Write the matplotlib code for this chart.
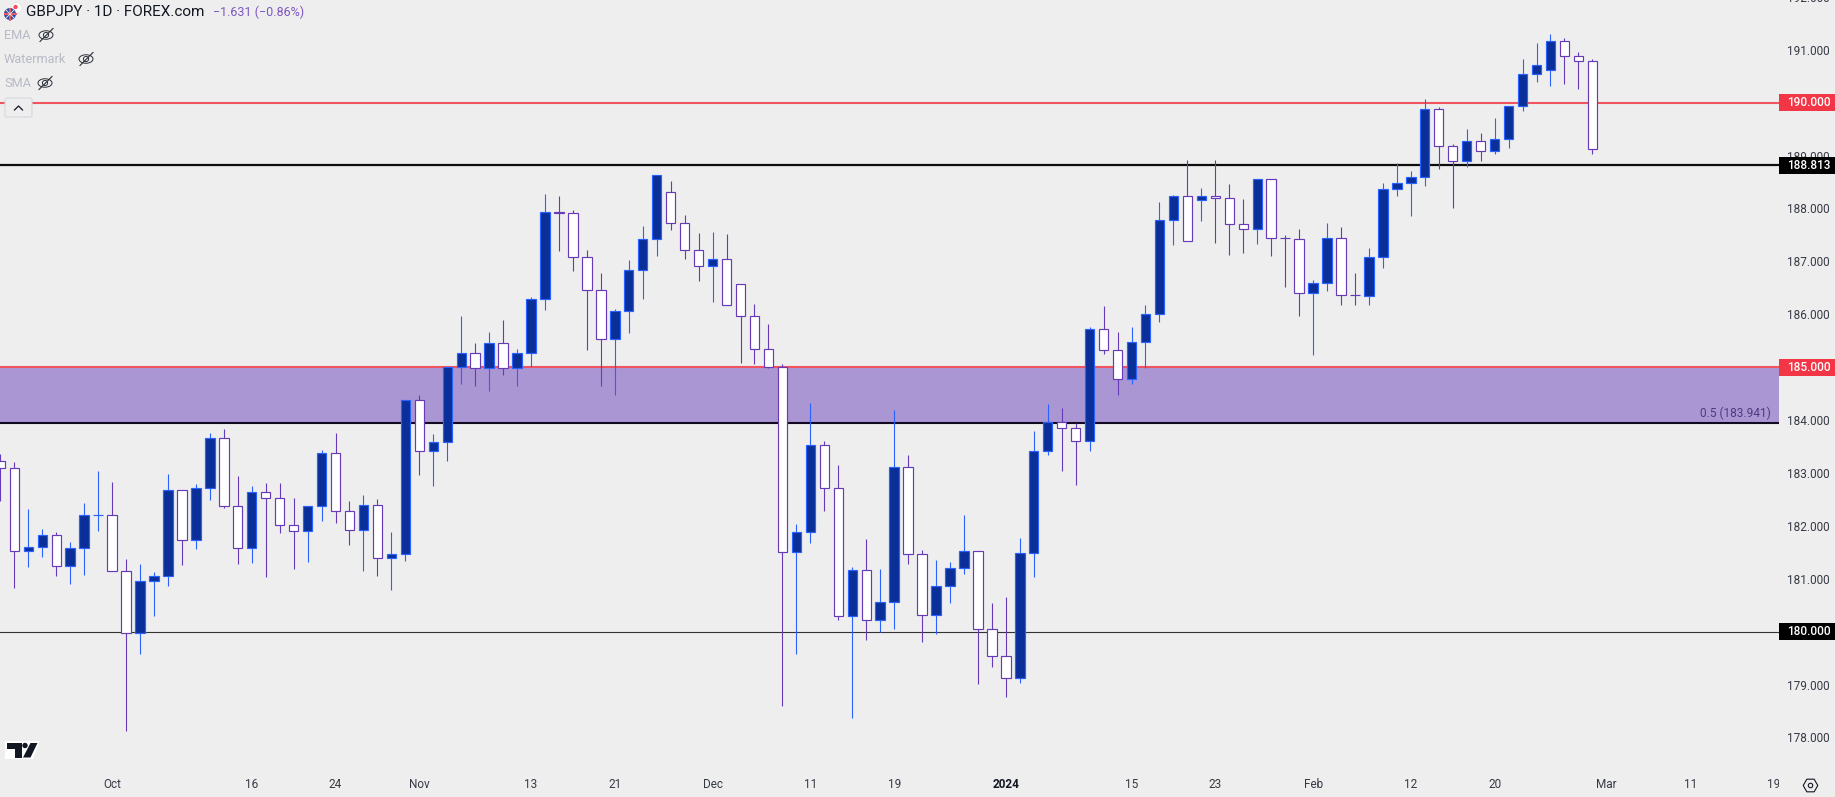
import matplotlib
matplotlib.use("Agg")
import matplotlib.pyplot as plt
from matplotlib.patches import Rectangle, FancyBboxPatch, Circle, Ellipse, Polygon
from matplotlib.transforms import blended_transform_factory
import numpy as np

# ───── DATA ────────────────────────────────────────────────────
opens = [183.22, 183.10, 181.52, 181.61, 181.82, 181.25, 181.59, 182.20, 182.21, 181.14,
         179.98, 180.95, 181.06, 182.67, 181.74, 182.71, 183.67, 182.38, 181.59, 182.65,
         182.52, 182.01, 181.91, 182.37, 183.37, 182.29, 181.93, 182.40, 181.40, 181.46,
         184.38, 183.42, 183.58, 185.01, 185.26, 184.98, 185.45, 184.99, 185.26, 186.28,
         187.94, 187.92, 187.09, 186.45, 185.54, 186.07, 186.83, 187.43, 188.32, 187.73,
         187.21, 186.92, 187.05, 186.58, 185.96, 185.35, 185.01, 181.50, 181.89, 183.52,
         182.71, 180.29, 181.16, 180.23, 180.57, 183.12, 181.46, 180.32, 180.87, 181.21,
         181.52, 180.06, 179.55, 179.13, 181.48, 183.41, 183.97, 183.86, 183.61, 185.73,
         185.32, 184.77, 185.47, 186.00, 187.79, 188.23, 188.17, 188.23, 188.19, 187.70,
         187.62, 188.55, 187.45, 187.43, 186.41, 186.60, 187.45, 186.37, 186.35, 187.09,
         188.36, 188.49, 188.59, 189.89, 189.19, 188.89, 189.28, 189.08, 189.32, 189.93,
         190.55, 190.61, 191.16, 190.89, 190.78]
highs = [183.36, 183.20, 182.32, 181.95, 181.88, 181.69, 182.43, 183.03, 182.83, 181.38,
         181.28, 181.12, 182.98, 182.67, 182.79, 183.75, 183.83, 182.94, 182.75, 182.81,
         182.81, 182.52, 182.37, 183.43, 183.75, 182.47, 182.58, 182.50, 181.88, 184.38,
         184.47, 183.73, 185.00, 185.96, 185.45, 185.66, 185.89, 185.34, 186.32, 188.27,
         188.23, 187.97, 187.21, 186.78, 186.10, 187.02, 187.67, 188.64, 188.52, 187.87,
         187.53, 187.55, 187.51, 186.58, 186.19, 185.81, 185.06, 182.04, 184.32, 183.60,
         183.15, 181.22, 181.75, 181.18, 184.19, 183.34, 181.54, 181.35, 181.31, 182.20,
         181.52, 180.54, 180.65, 181.77, 183.79, 184.30, 184.23, 183.95, 185.76, 186.15,
         185.66, 185.76, 186.17, 188.12, 188.25, 188.91, 188.38, 188.91, 188.46, 188.18,
         188.55, 188.55, 187.50, 187.61, 186.64, 187.72, 187.65, 186.78, 187.25, 188.48,
         188.86, 188.71, 190.07, 189.91, 189.21, 189.50, 189.42, 189.71, 189.93, 190.82,
         191.13, 191.30, 191.22, 190.95, 190.82]
lows = [182.47, 180.83, 181.23, 181.41, 181.06, 180.90, 181.07, 181.91, 181.14, 178.13,
        179.58, 180.30, 180.87, 181.26, 181.57, 182.49, 182.34, 181.28, 181.30, 181.04,
        181.87, 181.19, 181.32, 182.10, 182.06, 181.64, 181.15, 181.06, 180.79, 181.34,
        182.96, 182.75, 183.22, 184.68, 184.64, 184.55, 184.85, 184.64, 185.01, 186.08,
        187.19, 186.81, 185.32, 184.64, 184.47, 185.64, 186.29, 187.10, 187.59, 187.04,
        186.63, 186.23, 186.18, 185.08, 185.06, 184.98, 178.60, 179.58, 181.68, 182.28,
        180.22, 178.37, 179.85, 180.00, 180.05, 181.28, 179.81, 179.96, 180.55, 181.09,
        179.01, 179.34, 178.77, 179.03, 181.04, 183.34, 183.04, 182.78, 183.42, 185.25,
        184.47, 184.68, 184.98, 185.85, 187.31, 187.39, 187.76, 187.34, 187.12, 187.16,
        187.33, 187.10, 186.51, 185.96, 185.23, 186.44, 186.17, 186.17, 186.17, 186.87,
        188.23, 187.85, 188.43, 188.75, 188.01, 188.79, 188.90, 189.03, 189.15, 189.85,
        190.39, 190.32, 190.36, 190.26, 189.03]
closes = [183.10, 181.52, 181.61, 181.82, 181.25, 181.59, 182.20, 182.21, 181.14, 179.98,
          180.95, 181.06, 182.67, 181.74, 182.71, 183.67, 182.38, 181.59, 182.65, 182.52,
          182.01, 181.91, 182.37, 183.37, 182.29, 181.93, 182.40, 181.40, 181.46, 184.38,
          183.42, 183.58, 185.00, 185.26, 184.98, 185.45, 184.99, 185.26, 186.28, 187.94,
          187.92, 187.09, 186.45, 185.54, 186.07, 186.83, 187.43, 188.64, 187.73, 187.21,
          186.92, 187.05, 186.18, 185.96, 185.35, 185.01, 181.50, 181.89, 183.52, 182.71,
          180.29, 181.16, 180.23, 180.57, 183.12, 181.46, 180.32, 180.87, 181.21, 181.52,
          180.06, 179.55, 179.13, 181.48, 183.41, 183.97, 183.86, 183.61, 185.73, 185.32,
          184.77, 185.47, 186.00, 187.79, 188.23, 187.39, 188.23, 188.19, 187.70, 187.62,
          188.55, 187.45, 187.44, 186.41, 186.60, 187.45, 186.37, 186.36, 187.09, 188.36,
          188.49, 188.59, 189.89, 189.19, 188.89, 189.28, 189.08, 189.32, 189.93, 190.55,
          190.72, 191.16, 190.89, 190.78, 189.13]

time_labels = ["Oct", "16", "24", "Nov", "13", "21", "Dec", "11", "19", "2024",
               "15", "23", "Feb", "12", "20", "Mar", "11", "19"]
time_bars = [8, 18, 24, 30, 38, 44, 51, 58, 64, 72, 81, 87, 94, 101, 107, 115, 121, 127]
price_ticks = list(range(178, 193))
red_levels = [190.0, 185.0]
black_levels = [188.813, 180.0]
zone_low, zone_high = 183.941, 185.0
# ───────────────────────────────────────────────────────────────

W, H = 1835, 797
PANE_W = 1779
BAR_PX = 13.965
UNIT_PX = 52.9
BASE_PX = 631.7  # pixel row of the 180 level

BG = "#eeeeee"
UP_FILL = "#0b2f98"
UP_LINE = "#2962ff"
DOWN_FILL = "#ffffff"
DOWN_LINE = "#673ab7"
RED = "#f2545f"
TEXT = "#363a45"
FONT = "Roboto"

plt.rcParams["font.family"] = [FONT, "DejaVu Sans"]

fig = plt.figure(figsize=(W / 100, H / 100), dpi=100, facecolor=BG)
# main pane runs past the top edge so the clipped 192 label still gets drawn
ax = fig.add_axes([0, 0, PANE_W / W, 817 / H], facecolor=BG)
ax.set_xlim(-0.37 / BAR_PX, (PANE_W - 0.37) / BAR_PX)
ax.set_ylim(180 - (797 - BASE_PX) / UNIT_PX, 180 + (BASE_PX + 20) / UNIT_PX)
for s in ax.spines.values():
    s.set_visible(False)

# zone and horizontal levels sit under the candles
ax.axhspan(zone_low, zone_high, color="#ab96d4", lw=0, zorder=1)
ax.axhline(zone_low, color="#120a20", lw=1.5, zorder=1.2)
for lv in red_levels:
    ax.axhline(lv, color=RED, lw=1.5, zorder=1.2)
ax.axhline(black_levels[0], color="#0c0c0c", lw=1.6, zorder=1.2)
ax.axhline(black_levels[1], color="#333333", lw=0.8, zorder=1.2)

# candles
o = np.array(opens)
c = np.array(closes)
x = np.arange(len(o))
up = c >= o
body_w = 9.4 / BAR_PX
ax.vlines(x[up], np.array(lows)[up], np.array(highs)[up], color=UP_LINE, lw=0.8, zorder=3)
ax.vlines(x[~up], np.array(lows)[~up], np.array(highs)[~up], color=DOWN_LINE, lw=0.8, zorder=3)
ax.bar(x[up], (c - o)[up], bottom=o[up], width=body_w, facecolor=UP_FILL,
       edgecolor=UP_LINE, linewidth=0.85, zorder=3.2)
ax.bar(x[~up], (c - o)[~up], bottom=o[~up], width=body_w, facecolor=DOWN_FILL,
       edgecolor=DOWN_LINE, linewidth=0.85, zorder=3.2)

# price axis
ax.yaxis.tick_right()
ax.set_yticks(price_ticks)
ax.set_yticklabels([f"{p:.3f}" for p in price_ticks])
ax.tick_params(axis="y", length=0, pad=5.8, labelsize=8.5, labelcolor=TEXT)
ax.set_xticks([])

# price tags on the axis
tag_tr = blended_transform_factory(ax.transAxes, ax.transData)
tag_levels = [190.0, 188.813, 185.0, 180.0]
tag_colors = ["#f23645", "#000000", "#f23645", "#000000"]
for lv, col in zip(tag_levels, tag_colors):
    ax.add_patch(Rectangle((1, lv - 0.16), (W - PANE_W) / PANE_W, 0.32, transform=tag_tr,
                           facecolor=col, edgecolor="none", clip_on=False, zorder=5))
    ax.text(1 + 8 / PANE_W, lv - 0.005, f"{lv:.3f}", transform=tag_tr, color="white",
            fontsize=8.5, fontweight="medium", ha="left", va="center", clip_on=False, zorder=6)

ax.text(1 - 8.3 / PANE_W, zone_low + 0.19, f"0.5 ({zone_low:.3f})", transform=tag_tr,
        color="#4f3a80", fontsize=8.6, ha="right", va="center", zorder=4)

# time axis, labels are clipped at the pane edge
for pos, lab in zip(time_bars, time_labels):
    is_year = lab == "2024"
    ax.text(pos, 180 - (785 - BASE_PX) / UNIT_PX, lab, ha="center", va="center",
            fontsize=8.5, color="#131722" if is_year else TEXT,
            fontweight="bold" if is_year else "normal", clip_on=True, zorder=4)

# ───── screen furniture, in pixel coordinates ─────────────────
ui = fig.add_axes([0, 0, 1, 1], facecolor="none")
ui.set_xlim(0, W)
ui.set_ylim(H, 0)
ui.axis("off")

ui.text(26, 12, "GBPJPY · 1D · FOREX.com", color="#131722", fontsize=11, va="center")
ui.text(212.5, 12, "−1.631 (−0.86%)", color="#7e57c2", fontsize=9, va="center")

# flag with the holiday hat behind it
ui.add_patch(Circle((16.5, 8), 5.5, facecolor="white", edgecolor="#e4e4e8", lw=0.6))
ui.add_patch(Circle((15.5, 7), 2.2, facecolor="#f4505c", edgecolor="none"))
ui.add_patch(Circle((10, 14), 6, facecolor="#2f4f9e", edgecolor="none"))
ui.plot([4.5, 15.5], [14, 14], color="#e85a66", lw=1.4)
ui.plot([10, 10], [8.5, 19.5], color="#e85a66", lw=1.4)
ui.plot([6, 14], [10, 18], color="#f0f0f4", lw=0.6)
ui.plot([14, 6], [10, 18], color="#f0f0f4", lw=0.6)

legend_names = ["EMA", "Watermark", "SMA"]
legend_y = [35.5, 59.5, 83.5]
eye_x = [46, 86, 45]
for name, ly, ex in zip(legend_names, legend_y, eye_x):
    ui.text(4, ly, name, color="#b8bac6", fontsize=9.2, va="center")
    ui.add_patch(Ellipse((ex, ly - 0.5), 14, 8.5, facecolor="none", edgecolor="#2a2e39", lw=0.7))
    ui.add_patch(Circle((ex, ly - 0.5), 2.6, facecolor="none", edgecolor="#2a2e39", lw=0.7))
    ui.plot([ex - 6, ex + 7], [ly + 6, ly - 7], color="#2a2e39", lw=0.8)

# collapse button
ui.add_patch(FancyBboxPatch((5, 98), 27, 19, boxstyle="round,pad=0,rounding_size=2",
                            facecolor=BG, edgecolor="#d6d7df", lw=0.8, zorder=3))
ui.plot([14.5, 18.5, 22.5], [110, 106, 110], color="#131722", lw=0.9, zorder=4)

# TradingView logo
ui.add_patch(Polygon([(5, 741), (40, 741), (33, 759), (5, 759)], facecolor="white", edgecolor="none"))
ui.add_patch(Polygon([(7, 743), (22, 743), (22, 757.5), (15, 757.5), (15, 749), (7, 749)],
                     facecolor="#131722", edgecolor="none"))
ui.add_patch(Circle((25, 745.5), 2.7, facecolor="#131722", edgecolor="none"))
ui.add_patch(Polygon([(30.5, 743), (37.5, 743), (30.5, 757.5), (23, 757.5)],
                     facecolor="#131722", edgecolor="none"))

# settings hexagon, bottom right corner
ui.plot([1810], [785], marker="H", ms=10.5, mfc="none", mec="#131722", mew=0.8)
ui.plot([1810], [785], marker="o", ms=3.2, mfc="none", mec="#131722", mew=0.8)

out_path = "out.png"
fig.savefig(out_path, dpi=100, facecolor=BG)
plt.close(fig)
